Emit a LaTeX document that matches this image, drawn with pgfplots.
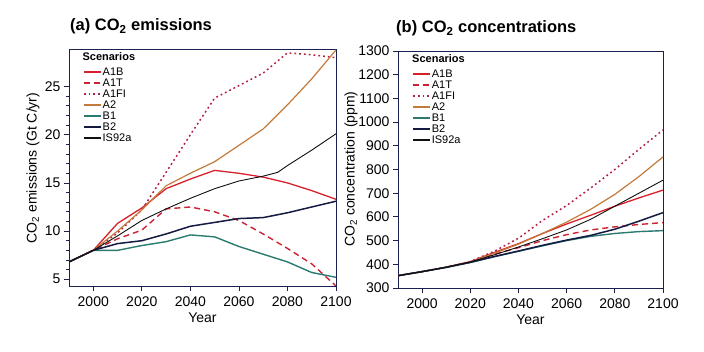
\documentclass[border=0pt]{standalone}
\usepackage{pgfplots}
\pgfplotsset{compat=1.18}
\usepackage{fontspec}
\setmainfont{Liberation Sans}
\definecolor{cA1B}{HTML}{D8202C}
\definecolor{cA1T}{HTML}{CC2233}
\definecolor{cA1FI}{HTML}{B42040}
\definecolor{cA2}{HTML}{C47A3A}
\definecolor{cB1}{HTML}{2A7A70}
\definecolor{cB2}{HTML}{141A40}
\definecolor{cIS}{HTML}{101010}
\definecolor{axc}{HTML}{1A2050}
\pgfplotsset{
  myaxis/.style={
    scale only axis,
    anchor=south west,
    axis line style={axc, line width=0.9pt},
    every tick/.style={axc, line width=0.8pt},
    tick align=outside,
    major tick length=5pt,
    minor tick length=3pt,
    xtick pos=bottom, ytick pos=left,
    /pgf/number format/assume math mode=true,
    /pgf/number format/1000 sep={},
    tick label style={font=\fontsize{14}{14}\selectfont},
    xticklabel style={yshift=-2pt},
    xtick={2000,2020,2040,2060,2080,2100},
    xmin=1990, xmax=2100,
    xlabel={Year},
    xlabel style={font=\fontsize{14}{14}\selectfont, yshift=0pt},
    legend style={draw=none, fill=none, anchor=north west, inner sep=0pt,
      font=\fontsize{11}{11}\selectfont,
      nodes={text height=7.5pt, text depth=1.5pt, inner sep=1pt},
      /tikz/every even column/.append style={column sep=3pt}},
    legend cell align=left,
    legend image code/.code={\draw[##1, line width=1.6pt] (0pt,0pt) -- (17pt,0pt);},
  },
  sA1B/.style={cA1B, line width=1.3pt},
  sA1T/.style={cA1T, line width=1.4pt, dash pattern=on 6pt off 4pt},
  sA1FI/.style={cA1FI, line width=1.5pt, dash pattern=on 1.8pt off 3pt},
  sA2/.style={cA2, line width=1.2pt},
  sB1/.style={cB1, line width=1.4pt},
  sB2/.style={cB2, line width=1.5pt},
  sIS/.style={cIS, line width=0.9pt},
}
\begin{document}
\begin{tikzpicture}
\path[use as bounding box] (0,0) rectangle (704pt,352pt);
% ---------- (a) emissions ----------
\begin{axis}[myaxis, at={(69pt,66pt)}, width=267pt, height=237pt,
  ymin=4.3, ymax=28.9, ytick={5,10,15,20,25}, minor y tick num=4,
  legend style={at={(0.052,0.926)}}]
\addplot[sA1B] coordinates {(1990,6.8)(2000,8.0)(2010,10.8)(2020,12.4)(2030,14.4)(2040,15.4)(2050,16.3)(2060,16.0)(2070,15.6)(2080,15.0)(2090,14.2)(2100,13.3)};
\addlegendentry{A1B}
\addplot[sA1T] coordinates {(1990,6.8)(2000,8.0)(2010,9.2)(2020,10.1)(2030,12.3)(2040,12.5)(2050,12.0)(2060,11.1)(2070,9.7)(2080,8.2)(2090,6.6)(2100,4.3)};
\addlegendentry{A1T}
\addplot[sA1FI] coordinates {(1990,6.8)(2000,8.0)(2010,9.8)(2020,12.2)(2030,16.1)(2040,20.0)(2050,23.8)(2060,25.1)(2070,26.4)(2080,28.5)(2090,28.3)(2100,28.0)};
\addlegendentry{A1FI}
\addplot[sA2] coordinates {(1990,6.8)(2000,8.0)(2010,10.0)(2020,12.2)(2030,14.7)(2040,16.0)(2050,17.2)(2060,18.9)(2070,20.6)(2080,23.1)(2090,25.8)(2100,28.8)};
\addlegendentry{A2}
\addplot[sB1] coordinates {(1990,6.8)(2000,8.0)(2010,8.0)(2020,8.5)(2030,8.9)(2040,9.6)(2050,9.4)(2060,8.4)(2070,7.6)(2080,6.8)(2090,5.7)(2100,5.2)};
\addlegendentry{B1}
\addplot[sB2] coordinates {(1990,6.8)(2000,8.0)(2010,8.7)(2020,9.0)(2030,9.7)(2040,10.5)(2050,10.9)(2060,11.3)(2070,11.4)(2080,11.9)(2090,12.5)(2100,13.1)};
\addlegendentry{B2}
\addplot[sIS] coordinates {(1990,6.8)(2000,8.0)(2010,9.5)(2020,11.1)(2030,12.3)(2040,13.4)(2050,14.4)(2060,15.2)(2070,15.7)(2076,16.1)(2080,16.8)(2090,18.4)(2100,20.1)};
\addlegendentry{IS92a}
\node[anchor=west, inner sep=0pt, font=\fontsize{11}{11}\selectfont\bfseries] at (rel axis cs:0.05,0.966) {Scenarios};
\end{axis}
% ---------- (b) concentrations ----------
\begin{axis}[myaxis, at={(398pt,64pt)}, width=265pt, height=237pt,
  ymin=300, ymax=1300, ytick={300,400,...,1300},
  legend style={at={(0.053,0.926)}}]
\addplot[sA1B] coordinates {(1990,352)(2000,369)(2010,388)(2020,411)(2030,450)(2040,487)(2050,530)(2060,570)(2070,607)(2080,645)(2090,680)(2100,713)};
\addlegendentry{A1B}
\addplot[sA1T] coordinates {(1990,352)(2000,369)(2010,388)(2020,410)(2030,443)(2040,470)(2050,500)(2060,525)(2070,545)(2080,558)(2090,568)(2100,576)};
\addlegendentry{A1T}
\addplot[sA1FI] coordinates {(1990,352)(2000,369)(2010,388)(2020,412)(2030,455)(2040,510)(2050,585)(2060,648)(2070,722)(2080,800)(2090,885)(2100,967)};
\addlegendentry{A1FI}
\addplot[sA2] coordinates {(1990,352)(2000,369)(2010,388)(2020,410)(2030,447)(2040,485)(2050,530)(2060,578)(2070,632)(2080,695)(2090,770)(2100,853)};
\addlegendentry{A2}
\addplot[sB1] coordinates {(1990,352)(2000,369)(2010,387)(2020,408)(2030,432)(2040,455)(2050,478)(2060,500)(2070,518)(2080,530)(2090,538)(2100,542)};
\addlegendentry{B1}
\addplot[sB2] coordinates {(1990,352)(2000,369)(2010,387)(2020,408)(2030,433)(2040,456)(2050,480)(2060,502)(2070,522)(2080,548)(2090,582)(2100,618)};
\addlegendentry{B2}
\addplot[sIS] coordinates {(1990,352)(2000,369)(2010,388)(2020,410)(2030,440)(2040,473)(2050,508)(2060,545)(2070,590)(2080,645)(2090,700)(2100,755)};
\addlegendentry{IS92a}
\node[anchor=west, inner sep=0pt, font=\fontsize{11}{11}\selectfont\bfseries] at (rel axis cs:0.053,0.966) {Scenarios};
\end{axis}
% titles and y labels
\node[anchor=base west, inner sep=0pt, font=\fontsize{16.5}{17}\selectfont\bfseries] at (70pt,321pt) {(a) CO\textsubscript{2} emissions};
\node[anchor=base west, inner sep=0pt, font=\fontsize{16.5}{17}\selectfont\bfseries] at (396pt,319pt) {(b) CO\textsubscript{2} concentrations};
\node[rotate=90, inner sep=0pt, font=\fontsize{14}{14}\selectfont] at (33pt,184pt) {CO\textsubscript{2} emissions (Gt C/yr)};
\node[rotate=90, inner sep=0pt, font=\fontsize{14}{14}\selectfont] at (351pt,183pt) {CO\textsubscript{2} concentration (ppm)};
\end{tikzpicture}
\end{document}
